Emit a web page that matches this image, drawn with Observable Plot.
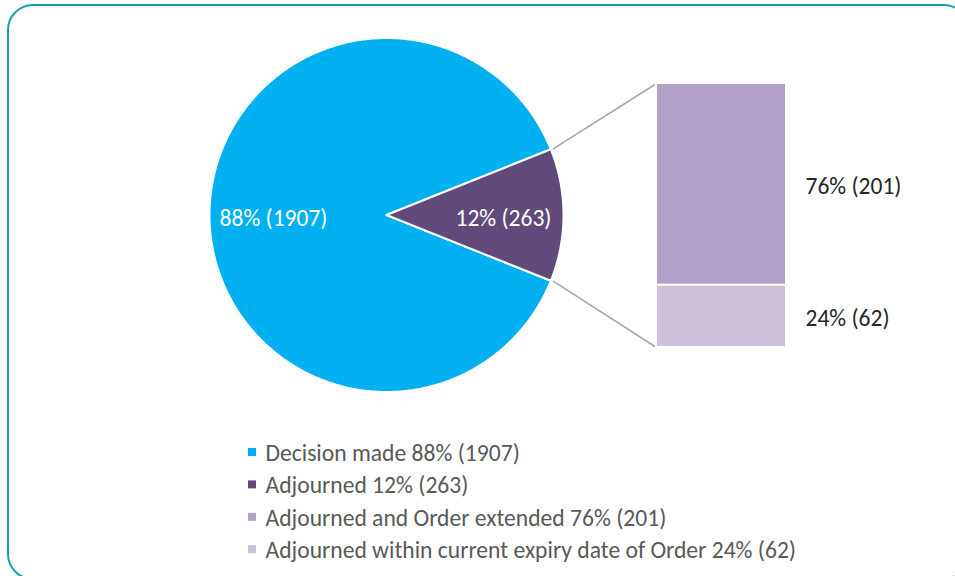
<!DOCTYPE html>
<html><head><meta charset="utf-8">
<script src="https://cdn.jsdelivr.net/npm/d3@7"></script>
<script src="https://cdn.jsdelivr.net/npm/@observablehq/plot@0.6"></script>
<style>
html,body{margin:0;padding:0;background:#fff;overflow:hidden;width:955px;height:576px}
#frame{position:absolute;left:7px;top:4px;width:963px;height:576px;border:2px solid #17a0a8;border-radius:26px;box-sizing:border-box}
#chart{position:absolute;left:0;top:0}
</style></head><body><div id="frame"></div><div id="chart"></div>
<script>
// ---- data ----
const pieCategories = ["Decision made", "Adjourned"];
const pieValues = [1907, 263];
const pieColors = ["#00b0f0", "#604a7b"];
const barCategories = ["Adjourned and Order extended", "Adjourned within current expiry date of Order"];
const barValues = [201, 62];
const barColors = ["#b1a0c7", "#ccc0da"];

// ---- layout ----
const W = 955, H = 576;
const cx = 386, cy = 214.5, R = 177;
const barX1 = 656, barX2 = 786, barTop = 83, barBottom = 347;
const FONT = "Calibri, Carlito, Lato, sans-serif";

const pieTotal = d3.sum(pieValues);
const barTotal = d3.sum(barValues);
const pct = (v, t) => Math.round(v / t * 100) + "%";

// pie angles: second slice centred on 3 o'clock
const span1 = pieValues[1] / pieTotal * 2 * Math.PI;
const startAngles = [span1 / 2, -span1 / 2];
const spans = [pieValues[0] / pieTotal * 2 * Math.PI, span1];

const pieRows = [];
pieCategories.forEach((c, i) => {
  pieRows.push({cat: c, color: pieColors[i], x: cx, y: cy});
  const n = Math.max(8, Math.ceil(spans[i] / (Math.PI / 360)));
  for (let k = 0; k <= n; k++) {
    const a = startAngles[i] + spans[i] * k / n;
    pieRows.push({cat: c, color: pieColors[i], x: cx + R * Math.cos(a), y: cy + R * Math.sin(a)});
  }
});

const pieLabels = [
  {x: cx - 113, y: cy + 3, text: `${pct(pieValues[0], pieTotal)} (${pieValues[0]})`},
  {x: cx + 117, y: cy + 3, text: `${pct(pieValues[1], pieTotal)} (${pieValues[1]})`}
];

let cum = 0;
const barRows = barValues.map((v, i) => {
  const y1 = barTop + cum / barTotal * (barBottom - barTop);
  cum += v;
  const y2 = barTop + cum / barTotal * (barBottom - barTop);
  return {cat: barCategories[i], color: barColors[i], y1, y2, text: `${pct(v, barTotal)} (${v})`};
});

const a0 = -span1 / 2, a1 = span1 / 2;
const links = [
  {x1: cx + R * Math.cos(a0) + 2, y1: cy + R * Math.sin(a0), x2: barX1, y2: barTop},
  {x1: cx + R * Math.cos(a1) + 2, y1: cy + R * Math.sin(a1), x2: barX1, y2: barBottom}
];

const legendRows = [
  ...pieCategories.map((c, i) => ({label: `${c} ${pct(pieValues[i], pieTotal)} (${pieValues[i]})`, color: pieColors[i]})),
  ...barCategories.map((c, i) => ({label: `${c} ${pct(barValues[i], barTotal)} (${barValues[i]})`, color: barColors[i]}))
].map((d, i) => ({...d, y: 452 + i * 32.4}));

const chart = Plot.plot({
  width: W, height: H, margin: 0,
  x: {type: "identity"}, y: {type: "identity"},
  color: {type: "identity"},
  style: {fontFamily: FONT, background: "transparent"},
  marks: [
    Plot.line(pieRows, {x: "x", y: "y", z: "cat", fill: "color", stroke: "white", strokeWidth: 2, curve: "linear-closed"}),
    Plot.link(links, {x1: "x1", y1: "y1", x2: "x2", y2: "y2", stroke: "#a6a6a6", strokeWidth: 1.5}),
    Plot.rect(barRows, {x1: barX1, x2: barX2, y1: "y1", y2: "y2", fill: "color", stroke: "white", strokeWidth: 2}),
    Plot.text(pieLabels, {x: "x", y: "y", text: "text", fill: "white", fontSize: 23.5, fontWeight: 300}),
    Plot.text(barRows, {x: barX2 + 19, y: d => (d.y1 + d.y2) / 2 + 2, text: "text", textAnchor: "start", fill: "#262626", fontSize: 23.5, fontWeight: 300}),
    Plot.rect(legendRows, {x1: 248, x2: 256, y1: d => d.y - 4, y2: d => d.y + 4, fill: "color"}),
    Plot.text(legendRows, {x: 265, y: d => d.y + 1, text: "label", textAnchor: "start", fill: "#595959", fontSize: 23.6, fontWeight: 300})
  ]
});
document.getElementById("chart").appendChild(chart);
</script></body></html>
